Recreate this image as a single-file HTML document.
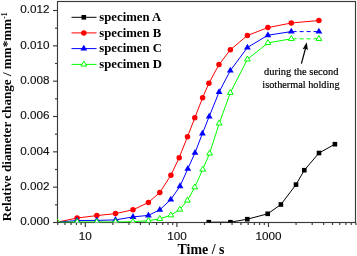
<!DOCTYPE html>
<html><head><meta charset="utf-8"><style>
html,body{margin:0;padding:0;background:#fff;width:357px;height:256px;overflow:hidden}
svg{display:block;will-change:transform}
.tl{font-family:"Liberation Sans",sans-serif;font-size:11.7px;fill:#111;stroke:#111;stroke-width:0.15px}
.lg{font-family:"Liberation Serif",serif;font-size:12.5px;font-weight:bold;fill:#000}
.an{font-family:"Liberation Serif",serif;font-size:11px;fill:#000;stroke:#000;stroke-width:0.2px}
.ax{font-family:"Liberation Serif",serif;font-size:13px;font-weight:bold;fill:#000}
</style></head><body>
<svg width="357" height="256" viewBox="0 0 357 256">
<rect width="357" height="256" fill="#fff"/>
<defs><clipPath id="c"><rect x="57.0" y="1.0" width="299.0" height="221.5"/></clipPath></defs>
<rect x="57.5" y="1.5" width="298.0" height="221.0" fill="none" stroke="#3a3a3a" stroke-width="1.15"/><line x1="53.0" y1="222.50" x2="57.5" y2="222.50" stroke="#3a3a3a" stroke-width="1.15"/><line x1="53.0" y1="187.17" x2="57.5" y2="187.17" stroke="#3a3a3a" stroke-width="1.15"/><line x1="53.0" y1="151.83" x2="57.5" y2="151.83" stroke="#3a3a3a" stroke-width="1.15"/><line x1="53.0" y1="116.50" x2="57.5" y2="116.50" stroke="#3a3a3a" stroke-width="1.15"/><line x1="53.0" y1="81.17" x2="57.5" y2="81.17" stroke="#3a3a3a" stroke-width="1.15"/><line x1="53.0" y1="45.83" x2="57.5" y2="45.83" stroke="#3a3a3a" stroke-width="1.15"/><line x1="53.0" y1="10.50" x2="57.5" y2="10.50" stroke="#3a3a3a" stroke-width="1.15"/><line x1="55.0" y1="204.83" x2="57.5" y2="204.83" stroke="#3a3a3a" stroke-width="1.15"/><line x1="55.0" y1="169.50" x2="57.5" y2="169.50" stroke="#3a3a3a" stroke-width="1.15"/><line x1="55.0" y1="134.17" x2="57.5" y2="134.17" stroke="#3a3a3a" stroke-width="1.15"/><line x1="55.0" y1="98.83" x2="57.5" y2="98.83" stroke="#3a3a3a" stroke-width="1.15"/><line x1="55.0" y1="63.50" x2="57.5" y2="63.50" stroke="#3a3a3a" stroke-width="1.15"/><line x1="55.0" y1="28.17" x2="57.5" y2="28.17" stroke="#3a3a3a" stroke-width="1.15"/><line x1="57.73" y1="222.5" x2="57.73" y2="225.0" stroke="#3a3a3a" stroke-width="1.15"/><line x1="64.98" y1="222.5" x2="64.98" y2="225.0" stroke="#3a3a3a" stroke-width="1.15"/><line x1="71.11" y1="222.5" x2="71.11" y2="225.0" stroke="#3a3a3a" stroke-width="1.15"/><line x1="76.42" y1="222.5" x2="76.42" y2="225.0" stroke="#3a3a3a" stroke-width="1.15"/><line x1="81.11" y1="222.5" x2="81.11" y2="225.0" stroke="#3a3a3a" stroke-width="1.15"/><line x1="85.30" y1="222.5" x2="85.30" y2="227.0" stroke="#3a3a3a" stroke-width="1.15"/><line x1="112.87" y1="222.5" x2="112.87" y2="225.0" stroke="#3a3a3a" stroke-width="1.15"/><line x1="129.00" y1="222.5" x2="129.00" y2="225.0" stroke="#3a3a3a" stroke-width="1.15"/><line x1="140.45" y1="222.5" x2="140.45" y2="225.0" stroke="#3a3a3a" stroke-width="1.15"/><line x1="149.33" y1="222.5" x2="149.33" y2="225.0" stroke="#3a3a3a" stroke-width="1.15"/><line x1="156.58" y1="222.5" x2="156.58" y2="225.0" stroke="#3a3a3a" stroke-width="1.15"/><line x1="162.71" y1="222.5" x2="162.71" y2="225.0" stroke="#3a3a3a" stroke-width="1.15"/><line x1="168.02" y1="222.5" x2="168.02" y2="225.0" stroke="#3a3a3a" stroke-width="1.15"/><line x1="172.71" y1="222.5" x2="172.71" y2="225.0" stroke="#3a3a3a" stroke-width="1.15"/><line x1="176.90" y1="222.5" x2="176.90" y2="227.0" stroke="#3a3a3a" stroke-width="1.15"/><line x1="204.47" y1="222.5" x2="204.47" y2="225.0" stroke="#3a3a3a" stroke-width="1.15"/><line x1="220.60" y1="222.5" x2="220.60" y2="225.0" stroke="#3a3a3a" stroke-width="1.15"/><line x1="232.05" y1="222.5" x2="232.05" y2="225.0" stroke="#3a3a3a" stroke-width="1.15"/><line x1="240.93" y1="222.5" x2="240.93" y2="225.0" stroke="#3a3a3a" stroke-width="1.15"/><line x1="248.18" y1="222.5" x2="248.18" y2="225.0" stroke="#3a3a3a" stroke-width="1.15"/><line x1="254.31" y1="222.5" x2="254.31" y2="225.0" stroke="#3a3a3a" stroke-width="1.15"/><line x1="259.62" y1="222.5" x2="259.62" y2="225.0" stroke="#3a3a3a" stroke-width="1.15"/><line x1="264.31" y1="222.5" x2="264.31" y2="225.0" stroke="#3a3a3a" stroke-width="1.15"/><line x1="268.50" y1="222.5" x2="268.50" y2="227.0" stroke="#3a3a3a" stroke-width="1.15"/><line x1="296.07" y1="222.5" x2="296.07" y2="225.0" stroke="#3a3a3a" stroke-width="1.15"/><line x1="312.20" y1="222.5" x2="312.20" y2="225.0" stroke="#3a3a3a" stroke-width="1.15"/><line x1="323.65" y1="222.5" x2="323.65" y2="225.0" stroke="#3a3a3a" stroke-width="1.15"/><line x1="332.53" y1="222.5" x2="332.53" y2="225.0" stroke="#3a3a3a" stroke-width="1.15"/><line x1="339.78" y1="222.5" x2="339.78" y2="225.0" stroke="#3a3a3a" stroke-width="1.15"/><line x1="345.91" y1="222.5" x2="345.91" y2="225.0" stroke="#3a3a3a" stroke-width="1.15"/><line x1="351.22" y1="222.5" x2="351.22" y2="225.0" stroke="#3a3a3a" stroke-width="1.15"/><line x1="355.91" y1="222.5" x2="355.91" y2="225.0" stroke="#3a3a3a" stroke-width="1.15"/>
<g clip-path="url(#c)">
<polyline points="208.8,222.2 230.4,222.2 247.3,219.2 267.7,213.8 280.9,204.5 296,184.6 304.3,170.2 319,153 334.9,144.2" fill="none" stroke="#000" stroke-width="1"/><rect x="206.50" y="219.90" width="4.6" height="4.6" fill="#000"/><rect x="228.10" y="219.90" width="4.6" height="4.6" fill="#000"/><rect x="245.00" y="216.90" width="4.6" height="4.6" fill="#000"/><rect x="265.40" y="211.50" width="4.6" height="4.6" fill="#000"/><rect x="278.60" y="202.20" width="4.6" height="4.6" fill="#000"/><rect x="293.70" y="182.30" width="4.6" height="4.6" fill="#000"/><rect x="302.00" y="167.90" width="4.6" height="4.6" fill="#000"/><rect x="316.70" y="150.70" width="4.6" height="4.6" fill="#000"/><rect x="332.60" y="141.90" width="4.6" height="4.6" fill="#000"/><polyline points="57.0,219.6 59.8,221.6 77.1,218.0 96.8,215.6 115.5,213.6 133,209.8 148.4,202.5 159.8,192.5 170.9,175.2 179.2,157.7 187.5,136.7 194.8,117.8 202.6,97.8 208.9,83.2 219,64.6 230.4,49.7 247.4,35.5 267.9,27.6 291.3,23.0 318.9,20.5" fill="none" stroke="#ff0000" stroke-width="1"/><circle cx="77.10" cy="218.00" r="2.75" fill="#ff0000"/><circle cx="96.80" cy="215.60" r="2.75" fill="#ff0000"/><circle cx="115.50" cy="213.60" r="2.75" fill="#ff0000"/><circle cx="133.00" cy="209.80" r="2.75" fill="#ff0000"/><circle cx="148.40" cy="202.50" r="2.75" fill="#ff0000"/><circle cx="159.80" cy="192.50" r="2.75" fill="#ff0000"/><circle cx="170.90" cy="175.20" r="2.75" fill="#ff0000"/><circle cx="179.20" cy="157.70" r="2.75" fill="#ff0000"/><circle cx="187.50" cy="136.70" r="2.75" fill="#ff0000"/><circle cx="194.80" cy="117.80" r="2.75" fill="#ff0000"/><circle cx="202.60" cy="97.80" r="2.75" fill="#ff0000"/><circle cx="208.90" cy="83.20" r="2.75" fill="#ff0000"/><circle cx="219.00" cy="64.60" r="2.75" fill="#ff0000"/><circle cx="230.40" cy="49.70" r="2.75" fill="#ff0000"/><circle cx="247.40" cy="35.50" r="2.75" fill="#ff0000"/><circle cx="267.90" cy="27.60" r="2.75" fill="#ff0000"/><circle cx="291.30" cy="23.00" r="2.75" fill="#ff0000"/><circle cx="318.90" cy="20.50" r="2.75" fill="#ff0000"/><polyline points="59.8,222.0 77.1,220.5 96.8,220.4 115.5,219.9 133,216.9 148.4,215.4 159.8,209.8 170.8,199.5 180,186.2 187.8,168.8 195,152.8 202.4,133.5 209.2,116.5 219.1,92 230.3,70.6 247.4,47.5 267.9,35.2 291.3,31.6" fill="none" stroke="#0000ff" stroke-width="1"/><polyline points="291.3,31.6 318.9,31.6" fill="none" stroke="#0000ff" stroke-width="1" stroke-dasharray="4,3" stroke-dashoffset="5.7"/><polygon points="77.10,216.65 73.70,222.50 80.50,222.50" fill="#0000ff"/><polygon points="96.80,216.55 93.40,222.40 100.20,222.40" fill="#0000ff"/><polygon points="115.50,216.05 112.10,221.90 118.90,221.90" fill="#0000ff"/><polygon points="133.00,213.05 129.60,218.90 136.40,218.90" fill="#0000ff"/><polygon points="148.40,211.55 145.00,217.40 151.80,217.40" fill="#0000ff"/><polygon points="159.80,205.95 156.40,211.80 163.20,211.80" fill="#0000ff"/><polygon points="170.80,195.65 167.40,201.50 174.20,201.50" fill="#0000ff"/><polygon points="180.00,182.35 176.60,188.20 183.40,188.20" fill="#0000ff"/><polygon points="187.80,164.95 184.40,170.80 191.20,170.80" fill="#0000ff"/><polygon points="195.00,148.95 191.60,154.80 198.40,154.80" fill="#0000ff"/><polygon points="202.40,129.65 199.00,135.50 205.80,135.50" fill="#0000ff"/><polygon points="209.20,112.65 205.80,118.50 212.60,118.50" fill="#0000ff"/><polygon points="219.10,88.15 215.70,94.00 222.50,94.00" fill="#0000ff"/><polygon points="230.30,66.75 226.90,72.60 233.70,72.60" fill="#0000ff"/><polygon points="247.40,43.65 244.00,49.50 250.80,49.50" fill="#0000ff"/><polygon points="267.90,31.35 264.50,37.20 271.30,37.20" fill="#0000ff"/><polygon points="291.30,27.75 287.90,33.60 294.70,33.60" fill="#0000ff"/><polygon points="318.90,27.75 315.50,33.60 322.30,33.60" fill="#0000ff"/><polyline points="57.0,218.6 59.6,222.2 77.1,222.0 96.8,222.0 115.5,222.0 133,221.7 148.4,220.7 159.8,218.8 170.8,215.2 179.8,209.5 187.4,200.5 194.8,187.2 202.7,169.5 209.6,153.4 219.2,123.4 230.3,92.8 247.4,59.3 267.9,42.9 291.3,38.8" fill="none" stroke="#00ff00" stroke-width="1"/><polyline points="291.3,38.8 318.9,38.8" fill="none" stroke="#00ff00" stroke-width="1" stroke-dasharray="4,3" stroke-dashoffset="5.7"/><polygon points="77.10,218.70 74.20,223.65 80.00,223.65" fill="#fff" stroke="#00ff00" stroke-width="1"/><polygon points="96.80,218.70 93.90,223.65 99.70,223.65" fill="#fff" stroke="#00ff00" stroke-width="1"/><polygon points="115.50,218.70 112.60,223.65 118.40,223.65" fill="#fff" stroke="#00ff00" stroke-width="1"/><polygon points="133.00,218.40 130.10,223.35 135.90,223.35" fill="#fff" stroke="#00ff00" stroke-width="1"/><polygon points="148.40,217.40 145.50,222.35 151.30,222.35" fill="#fff" stroke="#00ff00" stroke-width="1"/><polygon points="159.80,215.50 156.90,220.45 162.70,220.45" fill="#fff" stroke="#00ff00" stroke-width="1"/><polygon points="170.80,211.90 167.90,216.85 173.70,216.85" fill="#fff" stroke="#00ff00" stroke-width="1"/><polygon points="179.80,206.20 176.90,211.15 182.70,211.15" fill="#fff" stroke="#00ff00" stroke-width="1"/><polygon points="187.40,197.20 184.50,202.15 190.30,202.15" fill="#fff" stroke="#00ff00" stroke-width="1"/><polygon points="194.80,183.90 191.90,188.85 197.70,188.85" fill="#fff" stroke="#00ff00" stroke-width="1"/><polygon points="202.70,166.20 199.80,171.15 205.60,171.15" fill="#fff" stroke="#00ff00" stroke-width="1"/><polygon points="209.60,150.10 206.70,155.05 212.50,155.05" fill="#fff" stroke="#00ff00" stroke-width="1"/><polygon points="219.20,120.10 216.30,125.05 222.10,125.05" fill="#fff" stroke="#00ff00" stroke-width="1"/><polygon points="230.30,89.50 227.40,94.45 233.20,94.45" fill="#fff" stroke="#00ff00" stroke-width="1"/><polygon points="247.40,56.00 244.50,60.95 250.30,60.95" fill="#fff" stroke="#00ff00" stroke-width="1"/><polygon points="267.90,39.60 265.00,44.55 270.80,44.55" fill="#fff" stroke="#00ff00" stroke-width="1"/><polygon points="291.30,35.50 288.40,40.45 294.20,40.45" fill="#fff" stroke="#00ff00" stroke-width="1"/><polygon points="318.90,35.50 316.00,40.45 321.80,40.45" fill="#fff" stroke="#00ff00" stroke-width="1"/>
</g>
<text x="49.6" y="225.40" text-anchor="end" class="tl">0.000</text><text x="49.6" y="190.07" text-anchor="end" class="tl">0.002</text><text x="49.6" y="154.73" text-anchor="end" class="tl">0.004</text><text x="49.6" y="119.40" text-anchor="end" class="tl">0.006</text><text x="49.6" y="84.07" text-anchor="end" class="tl">0.008</text><text x="49.6" y="48.73" text-anchor="end" class="tl">0.010</text><text x="49.6" y="13.40" text-anchor="end" class="tl">0.012</text>
<text x="85.30" y="239.5" text-anchor="middle" class="tl">10</text><text x="176.90" y="239.5" text-anchor="middle" class="tl">100</text><text x="268.50" y="239.5" text-anchor="middle" class="tl">1000</text>
<line x1="71.5" y1="17.3" x2="96.5" y2="17.3" stroke="#000" stroke-width="1"/><rect x="81.50" y="15.00" width="4.6" height="4.6" fill="#000"/><text x="99.3" y="20.8" textLength="61.99" lengthAdjust="spacingAndGlyphs" class="lg">specimen A</text><line x1="71.5" y1="32.9" x2="96.5" y2="32.9" stroke="#ff0000" stroke-width="1"/><circle cx="83.80" cy="32.90" r="2.75" fill="#ff0000"/><text x="99.3" y="36.5" textLength="61.99" lengthAdjust="spacingAndGlyphs" class="lg">specimen B</text><line x1="71.5" y1="48.6" x2="96.5" y2="48.6" stroke="#0000ff" stroke-width="1"/><polygon points="83.80,44.75 80.40,50.60 87.20,50.60" fill="#0000ff"/><text x="99.3" y="52.2" textLength="62.68" lengthAdjust="spacingAndGlyphs" class="lg">specimen C</text><line x1="71.5" y1="64.4" x2="96.5" y2="64.4" stroke="#00ff00" stroke-width="1"/><polygon points="83.80,61.10 80.90,66.05 86.70,66.05" fill="#fff" stroke="#00ff00" stroke-width="1"/><text x="99.3" y="67.9" textLength="62.68" lengthAdjust="spacingAndGlyphs" class="lg">specimen D</text>
<text x="264" y="74.9" textLength="74.4" lengthAdjust="spacingAndGlyphs" class="an">during the second</text><text x="262.3" y="88.1" textLength="77.3" lengthAdjust="spacingAndGlyphs" class="an">isothermal holding</text><line x1="301.4" y1="63.6" x2="305.6" y2="48" stroke="#000" stroke-width="1.2"/><polygon points="306.7,42.2 302.6,49.3 305.3,48.6 307.9,50.0" fill="#000"/>
<text x="177.5" y="254.4" textLength="46.9" lengthAdjust="spacingAndGlyphs" class="ax" style="font-size:13.6px">Time / s</text>
<text transform="translate(11.1,221.2) rotate(-90)" textLength="202.3" lengthAdjust="spacingAndGlyphs" class="ax">Relative diameter change / mm*mm</text>
<text transform="translate(6.6,18.8) rotate(-90)" class="ax" style="font-size:7.7px">-1</text>
</svg>
</body></html>
